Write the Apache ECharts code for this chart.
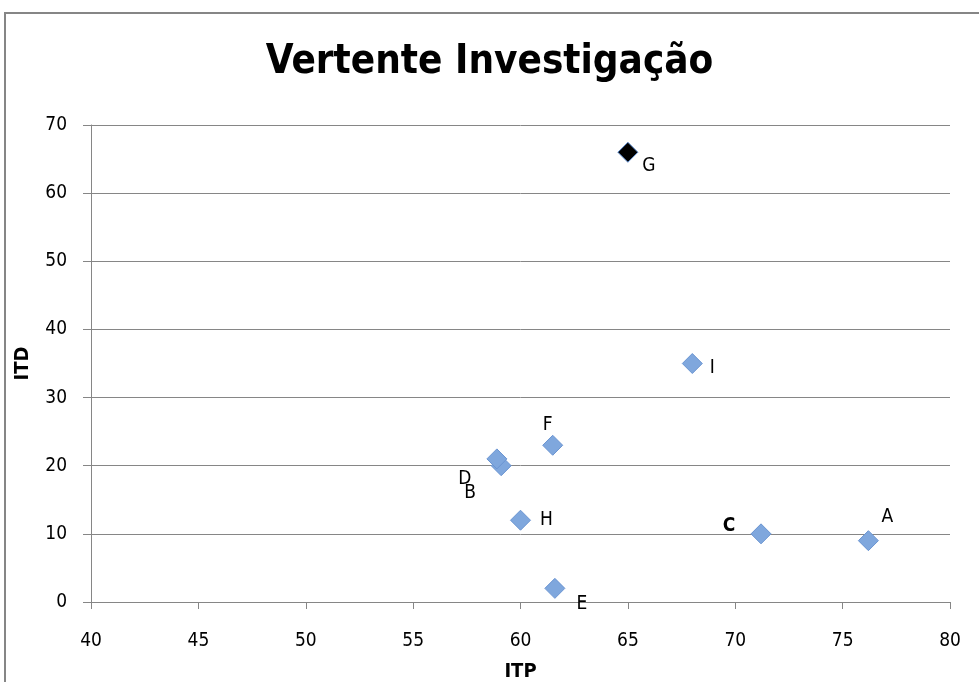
<!DOCTYPE html>
<html><head><meta charset="utf-8">
<script src="https://cdn.jsdelivr.net/npm/echarts@6/dist/echarts.min.js"></script>
<style>html,body{margin:0;padding:0;background:#fff}#c{width:979px;height:682px}</style>
</head><body><div id="c"></div>
<script>
var pointNames = ['A','B','C','D','E','F','G','H','I'];
var itpValues  = [76.2, 59.1, 71.2, 58.9, 61.6, 61.5, 65.0, 60.0, 68.0];
var itdValues  = [9, 20, 10, 21, 2, 23, 66, 12, 35];
var xTicks = [40,45,50,55,60,65,70,75,80];
var yTicks = [0,10,20,30,40,50,60,70];

// label styling (offsets from symbol centre, in px)
var labelOffsets = {A:[19,-24],B:[-31,27],C:[-32,-8],D:[-32,20],E:[27,16],F:[-5,-20],G:[21,14],H:[26,0],I:[20,5]};
var FONT = '"Liberation Sans Narrow","DejaVu Sans Condensed","Open Sans",sans-serif';

var data = pointNames.map(function(n,i){
  var item = {name:n, value:[itpValues[i], itdValues[i]],
    label:{fontWeight: n==='C'?'bold':'normal'}};
  if(n==='G'){ item.itemStyle={color:'#000000', borderColor:'#5b8bd0', borderWidth:1, opacity:1}; }
  return item;
});

var chart = echarts.init(document.getElementById('c'), null, {renderer:'canvas'});
chart.setOption({
  animation:false,
  backgroundColor:'#ffffff',
  graphic:[{type:'rect', shape:{x:5,y:13,width:1000,height:700}, style:{fill:'none', stroke:'#868686', lineWidth:2}, silent:true}],
  title:{text:'Vertente Investigação', left:'center', top:38,
    textStyle:{fontFamily:FONT, fontSize:40, fontWeight:'bold', color:'#000'}},
  grid:{left:91, right:29, top:125, bottom:80, outerBoundsMode:'none', containLabel:false},
  xAxis:{type:'value', min:40, max:80, interval:5,
    name:'ITP', nameLocation:'middle', nameGap:60,
    nameTextStyle:{fontFamily:FONT, fontSize:20, fontWeight:'bold', color:'#000'},
    axisLine:{show:true, lineStyle:{color:'#868686', width:1}},
    axisTick:{show:true, inside:false, length:7, lineStyle:{color:'#868686'}},
    axisLabel:{margin:30, fontFamily:FONT, fontSize:19, color:'#000',
      formatter:function(v){return xTicks.indexOf(v)>=0?String(v):'';}},
    splitLine:{show:false}},
  yAxis:{type:'value', min:0, max:70, interval:10,
    name:'ITD', nameLocation:'middle', nameGap:58, nameRotate:90,
    nameTextStyle:{fontFamily:FONT, fontSize:20, fontWeight:'bold', color:'#000'},
    axisLine:{show:true, lineStyle:{color:'#868686', width:1}},
    axisTick:{show:true, inside:false, length:8, lineStyle:{color:'#868686'}},
    axisLabel:{margin:24, fontFamily:FONT, fontSize:19, color:'#000',
      formatter:function(v){return yTicks.indexOf(v)>=0?String(v):'';}},
    splitLine:{show:true, lineStyle:{color:'#868686', width:1}}},
  series:[{type:'scatter', symbol:'diamond', symbolSize:20,
    itemStyle:{color:'#7fa7dd', borderColor:'#6b95d2', borderWidth:1, opacity:1},
    label:{show:true, position:'inside', formatter:'{b}', fontFamily:FONT, fontSize:19, color:'#000', opacity:1},
    labelLayout:function(p){
      var o = labelOffsets[pointNames[p.dataIndex]];
      return {dx:o[0], dy:o[1], hideOverlap:false};
    },
    data:data}]
});
</script></body></html>
